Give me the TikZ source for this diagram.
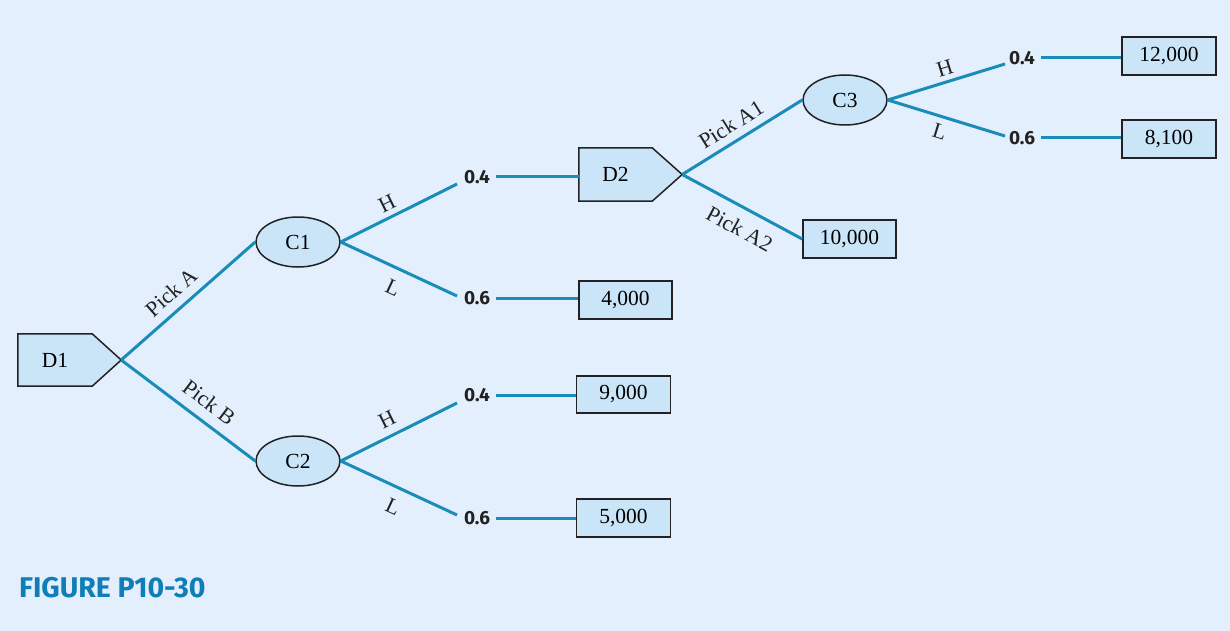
\documentclass[tikz,border=0pt]{standalone}
\usepackage{fontspec}
\setmainfont{Liberation Serif}
\newfontfamily\probfont{Fira Sans}
\newfontfamily\figfont{Fira Sans}
\usetikzlibrary{shapes.geometric}
\definecolor{bgc}{HTML}{E3EFFC}
\definecolor{nodefill}{HTML}{CAE4F8}
\definecolor{branchc}{HTML}{1A8CB8}
\definecolor{figblue}{HTML}{0E7DB8}
\definecolor{edgec}{HTML}{222222}
\pgfdeclarelayer{bgfill}
\pgfdeclarelayer{back}
\pgfsetlayers{bgfill,back,main}
\begin{document}
\begin{tikzpicture}[x=1pt,y=-1pt,
  serifnode/.style={font=\fontsize{21.5}{21.5}\selectfont},
  chance/.style={ellipse, draw=edgec, line width=1.5pt, fill=nodefill,
    minimum width=84pt, minimum height=50pt, inner sep=0pt, serifnode},
  payoff/.style={rectangle, draw=edgec, line width=1.6pt, fill=nodefill,
    minimum width=94pt, minimum height=38pt, inner sep=0pt, serifnode},
  dectext/.style={rectangle, minimum height=52pt, inner sep=0pt, serifnode},
  decshape/.style={draw=edgec, line width=1.5pt, fill=nodefill, line join=miter},
  branch/.style={draw=branchc, line width=3pt},
  prob/.style={font=\probfont\bfseries\fontsize{19}{19}\selectfont, inner sep=0pt, text=edgec},
  lbl/.style={font=\fontsize{22}{22}\selectfont, sloped, text=edgec},
  figlabel/.style={font=\figfont\bfseries\fontsize{28.5}{28.5}\selectfont, text=figblue, inner sep=0pt}
]
\begin{pgfonlayer}{bgfill}
\fill[bgc] (0,0) rectangle (1230,631);
\end{pgfonlayer}
\useasboundingbox (0,0) rectangle (1230,631);

% decision nodes
\node[dectext, minimum width=74pt] (D1) at (55,360) {D1};
\node[dectext, minimum width=73pt, minimum height=53pt] (D2) at (615.5,174.5) {D2};
\begin{pgfonlayer}{back}
\path[decshape] (D1.north west) -- (D1.north east) -- ([xshift=29pt]D1.east)
  -- (D1.south east) -- (D1.south west) -- cycle;
\path[decshape] (D2.north west) -- (D2.north east) -- ([xshift=30pt]D2.east)
  -- (D2.south east) -- (D2.south west) -- cycle;
\end{pgfonlayer}
\coordinate (D1t) at ([xshift=29pt]D1.east);
\coordinate (D2t) at ([xshift=30pt]D2.east);

% chance nodes
\node[chance] (C1) at (298,242) {C1};
\node[chance] (C2) at (298,461) {C2};
\node[chance] (C3) at (845,100) {C3};

% payoff nodes
\node[payoff, minimum width=93pt] (v4) at (625.5,300) {4,000};
\node[payoff, minimum height=37pt] (v9) at (623.5,394.5) {9,000};
\node[payoff] (v5) at (623.5,518) {5,000};
\node[payoff, minimum width=93pt] (v10) at (849.5,239) {10,000};
\node[payoff] (v12) at (1169,56) {12,000};
\node[payoff] (v81) at (1169,139) {8,100};

% probability labels
\node[prob] (p1) at (477,177) {0.4};
\node[prob] (p2) at (477,298) {0.6};
\node[prob] (p3) at (477,395) {0.4};
\node[prob] (p4) at (477,518) {0.6};
\node[prob] (p5) at (1022,58) {0.4};
\node[prob] (p6) at (1022,138) {0.6};

% branch end points
\coordinate (h1) at (457,184);
\coordinate (l1) at (457,296);
\coordinate (h2) at (457,403);
\coordinate (l2) at (457,515);
\coordinate (h3) at (1005,64);
\coordinate (l3) at (1005,136);

% branches
\draw[branch] (D1t) -- node[lbl, above, pos=0.46, inner sep=8.5pt] {Pick A} (C1.west);
\draw[branch] (D1t) -- node[lbl, above, pos=0.57, inner sep=10pt] {Pick B} (C2.west);
\draw[branch] (C1.east) -- node[lbl, above, pos=0.45, inner sep=5pt] {H} (h1);
\draw[branch] (C1.east) -- node[lbl, below, pos=0.52, inner sep=11pt] {L} (l1);
\draw[branch] (C2.east) -- node[lbl, above, pos=0.46, inner sep=7.5pt] {H} (h2);
\draw[branch] (C2.east) -- node[lbl, below, pos=0.52, inner sep=11pt] {L} (l2);
\draw[branch] (D2t) -- node[lbl, above, pos=0.48, inner sep=7.5pt] {Pick A1} (C3.west);
\draw[branch] (D2t) -- node[lbl, below, pos=0.56, inner sep=11.5pt] {Pick A2} (v10.west);
\draw[branch] (C3.east) -- node[lbl, above, pos=0.52, inner sep=4.5pt] {H} (h3);
\draw[branch] (C3.east) -- node[lbl, below, pos=0.48, inner sep=6.5pt] {L} (l3);

% probability to outcome lines
\draw[branch, shorten <=6pt] (p1.east) -- (D2.west |- p1.east);
\draw[branch, shorten <=6pt] (p2.east) -- (v4.west |- p2.east);
\draw[branch, shorten <=6pt] (p3.east) -- (v9.west |- p3.east);
\draw[branch, shorten <=6pt] (p4.east) -- (v5.west |- p4.east);
\draw[branch, shorten <=6pt] (p5.east) -- (v12.west |- p5.east);
\draw[branch, shorten <=6pt] (p6.east) -- (v81.west |- p6.east);

% figure label
\node[figlabel, anchor=west] (fig) at (19,588) {FIGURE P10-30};
\end{tikzpicture}
\end{document}
